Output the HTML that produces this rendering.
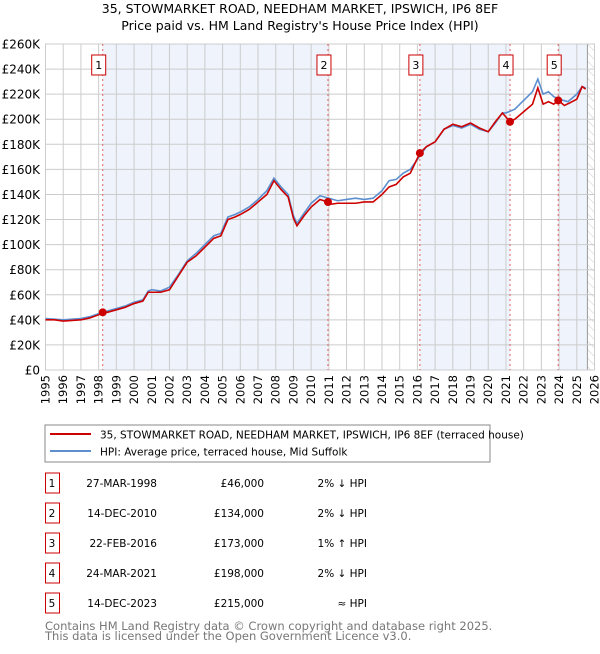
<!DOCTYPE html>
<html><head><meta charset="utf-8"><style>
body{margin:0;background:#fff;font-family:"DejaVu Sans","Liberation Sans",sans-serif}
svg text{font-family:"DejaVu Sans","Liberation Sans",sans-serif}
</style></head><body>
<svg id="c" width="600" height="650" xmlns="http://www.w3.org/2000/svg">
<defs><pattern id="hatch" width="6" height="6" patternUnits="userSpaceOnUse" patternTransform="rotate(-45)"><line x1="0" y1="0" x2="0" y2="6" stroke="#ccc" stroke-width="1"/></pattern></defs>
<text x="300" y="13" text-anchor="middle" font-size="12.5">35, STOWMARKET ROAD, NEEDHAM MARKET, IPSWICH, IP6 8EF</text>
<text x="300" y="30" text-anchor="middle" font-size="12.5">Price paid vs. HM Land Registry's House Price Index (HPI)</text>
<g id="plot"></g>
<rect x="45" y="425" width="445" height="37" fill="#fff" stroke="#888"/>
<line x1="50" y1="434" x2="91" y2="434" stroke="#cc0000" stroke-width="2"/>
<text x="100" y="438.5" font-size="10.5">35, STOWMARKET ROAD, NEEDHAM MARKET, IPSWICH, IP6 8EF (terraced house)</text>
<line x1="50" y1="451" x2="91" y2="451" stroke="#5b8fd0" stroke-width="2"/>
<text x="100" y="455.5" font-size="10.5">HPI: Average price, terraced house, Mid Suffolk</text>
<g id="tbl" font-size="10.5"></g>
<text x="45" y="630" font-size="11.5" fill="#777">Contains HM Land Registry data © Crown copyright and database right 2025.</text>
<text x="45" y="640" font-size="11.5" fill="#777">This data is licensed under the Open Government Licence v3.0.</text>
</svg>
<script>
const yTicks=[0,20,40,60,80,100,120,140,160,180,200,220,240,260];
const years=[1995,1996,1997,1998,1999,2000,2001,2002,2003,2004,2005,2006,2007,2008,2009,2010,2011,2012,2013,2014,2015,2016,2017,2018,2019,2020,2021,2022,2023,2024,2025,2026];
const hpiT=[1995,1995.5,1996,1996.5,1997,1997.5,1998,1998.5,1999,1999.5,2000,2000.5,2000.8,2001,2001.5,2002,2002.5,2003,2003.5,2004,2004.5,2004.9,2005.3,2005.7,2006,2006.5,2007,2007.5,2007.9,2008.3,2008.7,2009,2009.2,2009.6,2010,2010.5,2011,2011.5,2012,2012.5,2013,2013.5,2014,2014.4,2014.8,2015.2,2015.6,2016,2016.5,2017,2017.5,2018,2018.5,2019,2019.5,2020,2020.4,2020.8,2021,2021.5,2022,2022.5,2022.8,2023.1,2023.4,2023.7,2024,2024.5,2025,2025.3,2025.5];
const hpiV=[41,40.5,40,40.5,41,42.5,45,47,49,51,54,56,63,64,63,66,76,87,93,100,107,109,122,124,126,130,136,143,153,146,140,123,117,125,133,139,137,135,136,137,136,137,143,151,152,157,160,168,178,182,192,195,193,196,192,190,197,205,205,208,215,222,232,220,222,218,216,214,220,226,225];
const ppT=[1995,1995.5,1996,1996.5,1997,1997.5,1998,1998.23,1998.5,1999,1999.5,2000,2000.5,2000.8,2001,2001.5,2002,2002.5,2003,2003.5,2004,2004.5,2004.9,2005.3,2005.7,2006,2006.5,2007,2007.5,2007.9,2008.3,2008.7,2009,2009.2,2009.6,2010,2010.5,2010.95,2011,2011.5,2012,2012.5,2013,2013.5,2014,2014.4,2014.8,2015.2,2015.6,2016.14,2016.5,2017,2017.5,2018,2018.5,2019,2019.5,2020,2020.4,2020.8,2021.23,2021.5,2022,2022.5,2022.8,2023.1,2023.4,2023.7,2023.95,2024.3,2024.6,2025,2025.3,2025.5];
const ppV=[40,40,39,39.5,40,41.5,44,46,46,48,50,53,55,62,62,62,64,75,86,91,98,105,107,120,122,124,128,134,140,151,144,138,121,115,123,130,136,134,132,133,133,133,134,134,140,146,148,154,157,173,178,182,192,196,194,197,193,190,198,205,198,200,206,212,225,212,214,212,215,211,213,216,226,224];
const sales=[{n:'1',t:1998.23,v:46,d:'27-MAR-1998',p:'£46,000',h:'2% ↓ HPI'},{n:'2',t:2010.95,v:134,d:'14-DEC-2010',p:'£134,000',h:'2% ↓ HPI'},{n:'3',t:2016.14,v:173,d:'22-FEB-2016',p:'£173,000',h:'1% ↑ HPI'},{n:'4',t:2021.23,v:198,d:'24-MAR-2021',p:'£198,000',h:'2% ↓ HPI'},{n:'5',t:2023.95,v:215,d:'14-DEC-2023',p:'£215,000',h:'≈ HPI'}];
const X0=45.5,X1=594.5,Y0=370,Y1=44;
const xs=t=>X0+(t-1995)/31*(X1-X0);
const ys=v=>Y0-v/260*(Y0-Y1);
const NS='http://www.w3.org/2000/svg';
const g=document.getElementById('plot');
function mk(tag,at,par){const e=document.createElementNS(NS,tag);for(const k in at)e.setAttribute(k,at[k]);(par||g).appendChild(e);return e;}
const shadeEnds=[[sales[0].t,sales[1].t],[sales[2].t,sales[3].t],[sales[4].t,2025.6]];
shadeEnds.forEach(s=>{const r=mk('rect',{x:xs(s[0]),y:Y1,width:xs(s[1])-xs(s[0]),height:Y0-Y1,fill:'#eef3fc'});

});
const hr=mk('rect',{x:xs(2025.6),y:Y1,width:X1-xs(2025.6),height:Y0-Y1,fill:'url(#hatch)'});


mk('line',{x1:xs(2025.6),y1:Y1,x2:xs(2025.6),y2:Y0,stroke:'#999','stroke-width':1});
years.forEach(y=>{const l=mk('line',{x1:xs(y),y1:Y1,x2:xs(y),y2:Y0,stroke:'#ccc','stroke-width':1});


const t=mk('text',{x:0,y:0,'font-size':'11.5','text-anchor':'end',transform:`translate(${xs(y)+4},${Y0+5}) rotate(-90)`});t.textContent=y;

});
yTicks.forEach(v=>{const l=mk('line',{x1:X0,y1:ys(v),x2:X1,y2:ys(v),stroke:'#ccc','stroke-width':1});


const t=mk('text',{x:40,y:ys(v)+4.5,'font-size':'12','text-anchor':'end'});t.textContent=v===0?'£0':'£'+v+'K';

});
mk('rect',{x:X0,y:Y1,width:X1-X0,height:Y0-Y1,fill:'none',stroke:'#ccc'});
sales.forEach(s=>{const l=mk('line',{x1:xs(s.t),y1:Y1,x2:xs(s.t),y2:Y0,stroke:'#e06060','stroke-dasharray':'2,3','stroke-width':1});


const b=mk('rect',{x:xs(s.t)-11,y:55,width:14,height:20,fill:'#fff',stroke:'#cc0000'});


const t=mk('text',{x:xs(s.t)-4,y:69,'font-size':'11','text-anchor':'middle'});t.textContent=s.n;

});
const hp=mk('polyline',{points:hpiT.map((t,i)=>xs(t)+','+ys(hpiV[i])).join(' '),fill:'none',stroke:'#5b8fd0','stroke-width':1.6});


const pp=mk('polyline',{points:ppT.map((t,i)=>xs(t)+','+ys(ppV[i])).join(' '),fill:'none',stroke:'#cc0000','stroke-width':1.6});


sales.forEach(s=>{const c=mk('circle',{cx:xs(s.t),cy:ys(s.v),r:4,fill:'#cc0000'});

});
const tb=document.getElementById('tbl');
sales.forEach((s,i)=>{const y=483+i*30;
const b=mk('rect',{x:45.5,y:y-10,width:14,height:20,fill:'#fff',stroke:'#cc0000'},tb);


[[52,'middle',s.n],[157,'end',s.d],[264,'end',s.p],[367,'end',s.h]].forEach(a=>{const t=mk('text',{x:a[0],y:y+4,'text-anchor':a[1]},tb);t.textContent=a[2];

});});
</script>
</body></html>
